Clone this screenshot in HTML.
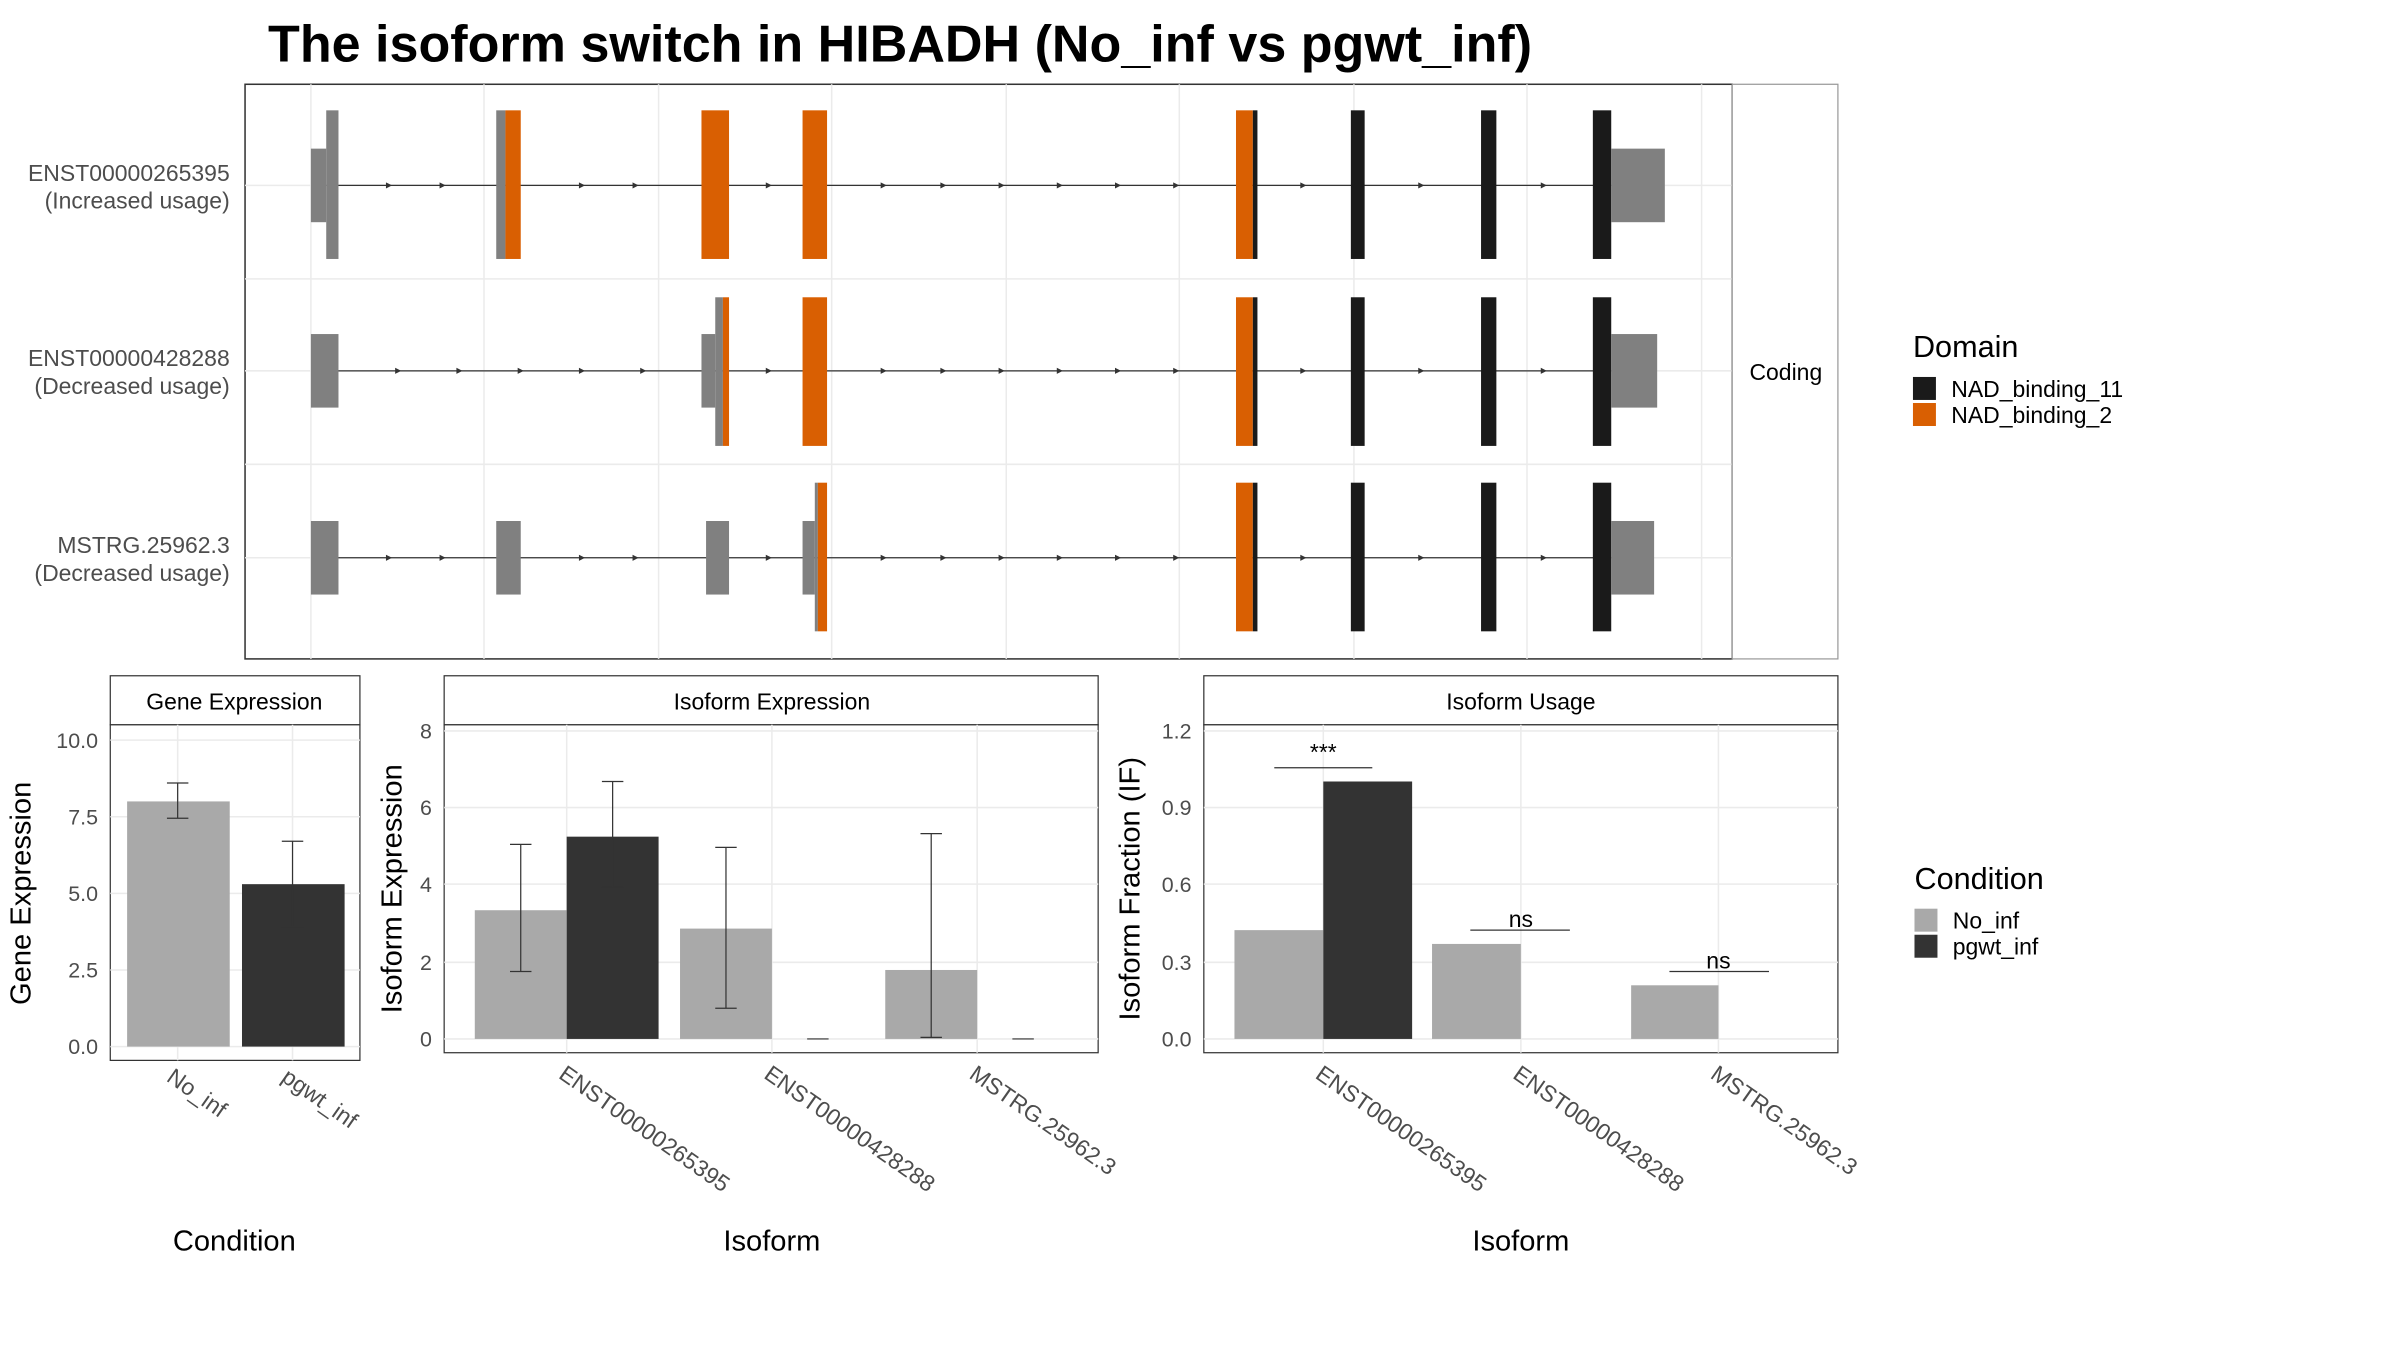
<!DOCTYPE html>
<html><head><meta charset="utf-8"><style>html,body{margin:0;padding:0;background:#fff}svg{display:block}</style></head>
<body>
<svg width="2400" height="1350" viewBox="0 0 1567 881" preserveAspectRatio="none" xmlns="http://www.w3.org/2000/svg" font-family="Liberation Sans, sans-serif">
<rect width="1600" height="900" fill="#fff"/>
<text x="175" y="40" font-size="34" font-weight="bold" fill="#000">The isoform switch in HIBADH (No_inf vs pgwt_inf)</text>
<rect x="160" y="55" width="971" height="375" fill="#fff" stroke="#333" stroke-width="1"/>
<g stroke="#ebebeb" stroke-width="1">
<line x1="203" y1="55" x2="203" y2="430"/><line x1="316" y1="55" x2="316" y2="430"/><line x1="430" y1="55" x2="430" y2="430"/><line x1="543" y1="55" x2="543" y2="430"/><line x1="657" y1="55" x2="657" y2="430"/><line x1="770" y1="55" x2="770" y2="430"/><line x1="884" y1="55" x2="884" y2="430"/><line x1="997" y1="55" x2="997" y2="430"/><line x1="1111" y1="55" x2="1111" y2="430"/>
<line x1="160" y1="121" x2="1131" y2="121"/><line x1="160" y1="242" x2="1131" y2="242"/><line x1="160" y1="364" x2="1131" y2="364"/>
<line x1="160" y1="182" x2="1131" y2="182"/><line x1="160" y1="303" x2="1131" y2="303"/>
</g>
<rect x="1131" y="55" width="69" height="375" fill="#fff" stroke="#999" stroke-width="0.8"/>
<text x="1166" y="248" font-size="15" text-anchor="middle">Coding</text>
<g stroke="#333" stroke-width="0.8">
<line x1="213" y1="121" x2="1052" y2="121"/><line x1="213" y1="242" x2="1052" y2="242"/><line x1="213" y1="364" x2="1052" y2="364"/>
</g>
<g fill="#333">
<path d="M252,119 l4,2 l-4,2z M287,119 l4,2 l-4,2z M378,119 l4,2 l-4,2z M413,119 l4,2 l-4,2z M500,119 l4,2 l-4,2z M575,119 l4,2 l-4,2z M614,119 l4,2 l-4,2z M652,119 l4,2 l-4,2z M690,119 l4,2 l-4,2z M728,119 l4,2 l-4,2z M766,119 l4,2 l-4,2z M849,119 l4,2 l-4,2z M926,119 l4,2 l-4,2z M1006,119 l4,2 l-4,2z"/>
<path d="M258,240 l4,2 l-4,2z M298,240 l4,2 l-4,2z M338,240 l4,2 l-4,2z M378,240 l4,2 l-4,2z M418,240 l4,2 l-4,2z M500,240 l4,2 l-4,2z M575,240 l4,2 l-4,2z M614,240 l4,2 l-4,2z M652,240 l4,2 l-4,2z M690,240 l4,2 l-4,2z M728,240 l4,2 l-4,2z M766,240 l4,2 l-4,2z M849,240 l4,2 l-4,2z M926,240 l4,2 l-4,2z M1006,240 l4,2 l-4,2z"/>
<path d="M252,362 l4,2 l-4,2z M287,362 l4,2 l-4,2z M378,362 l4,2 l-4,2z M413,362 l4,2 l-4,2z M500,362 l4,2 l-4,2z M575,362 l4,2 l-4,2z M614,362 l4,2 l-4,2z M652,362 l4,2 l-4,2z M690,362 l4,2 l-4,2z M728,362 l4,2 l-4,2z M766,362 l4,2 l-4,2z M849,362 l4,2 l-4,2z M926,362 l4,2 l-4,2z M1006,362 l4,2 l-4,2z"/>
</g>
<g>
<rect x="203" y="97" width="10" height="48" fill="#808080"/><rect x="213" y="72" width="8" height="97" fill="#808080"/>
<rect x="324" y="72" width="6" height="97" fill="#808080"/><rect x="330" y="72" width="10" height="97" fill="#d95f02"/>
<rect x="458" y="72" width="18" height="97" fill="#d95f02"/><rect x="524" y="72" width="16" height="97" fill="#d95f02"/>
<rect x="807" y="72" width="11" height="97" fill="#d95f02"/><rect x="818" y="72" width="3" height="97" fill="#1a1a1a"/>
<rect x="882" y="72" width="9" height="97" fill="#1a1a1a"/><rect x="967" y="72" width="10" height="97" fill="#1a1a1a"/>
<rect x="1040" y="72" width="12" height="97" fill="#1a1a1a"/><rect x="1052" y="97" width="35" height="48" fill="#808080"/>
</g>
<g>
<rect x="203" y="218" width="18" height="48" fill="#808080"/>
<rect x="458" y="218" width="9" height="48" fill="#808080"/><rect x="467" y="194" width="5" height="97" fill="#808080"/><rect x="472" y="194" width="4" height="97" fill="#d95f02"/>
<rect x="524" y="194" width="16" height="97" fill="#d95f02"/>
<rect x="807" y="194" width="11" height="97" fill="#d95f02"/><rect x="818" y="194" width="3" height="97" fill="#1a1a1a"/>
<rect x="882" y="194" width="9" height="97" fill="#1a1a1a"/><rect x="967" y="194" width="10" height="97" fill="#1a1a1a"/>
<rect x="1040" y="194" width="12" height="97" fill="#1a1a1a"/><rect x="1052" y="218" width="30" height="48" fill="#808080"/>
</g>
<g>
<rect x="203" y="340" width="18" height="48" fill="#808080"/><rect x="324" y="340" width="16" height="48" fill="#808080"/>
<rect x="461" y="340" width="15" height="48" fill="#808080"/><rect x="524" y="340" width="8" height="48" fill="#808080"/>
<rect x="532" y="315" width="2" height="97" fill="#808080"/><rect x="534" y="315" width="6" height="97" fill="#d95f02"/>
<rect x="807" y="315" width="11" height="97" fill="#d95f02"/><rect x="818" y="315" width="3" height="97" fill="#1a1a1a"/>
<rect x="882" y="315" width="9" height="97" fill="#1a1a1a"/><rect x="967" y="315" width="10" height="97" fill="#1a1a1a"/>
<rect x="1040" y="315" width="12" height="97" fill="#1a1a1a"/><rect x="1052" y="340" width="28" height="48" fill="#808080"/>
</g>
<g font-size="15" fill="#4d4d4d" text-anchor="end">
<text x="150" y="118">ENST00000265395</text><text x="150" y="136">(Increased usage)</text>
<text x="150" y="239">ENST00000428288</text><text x="150" y="257">(Decreased usage)</text>
<text x="150" y="361">MSTRG.25962.3</text><text x="150" y="379">(Decreased usage)</text>
</g>
<text x="1249" y="233" font-size="20">Domain</text>
<rect x="1249" y="246" width="15" height="15" fill="#1a1a1a"/><text x="1274" y="259" font-size="15">NAD_binding_11</text>
<rect x="1249" y="263" width="15" height="15" fill="#d95f02"/><text x="1274" y="276" font-size="15">NAD_binding_2</text>

<rect x="72" y="441" width="163" height="32" fill="#fff" stroke="#333" stroke-width="0.8"/>
<text x="153" y="463" font-size="15" text-anchor="middle">Gene Expression</text>
<rect x="72" y="473" width="163" height="219" fill="#fff" stroke="#333" stroke-width="0.8"/>
<g stroke="#ebebeb"><line x1="72" y1="483" x2="235" y2="483"/><line x1="72" y1="533" x2="235" y2="533"/><line x1="72" y1="583" x2="235" y2="583"/><line x1="72" y1="633" x2="235" y2="633"/><line x1="72" y1="683" x2="235" y2="683"/><line x1="116" y1="473" x2="116" y2="692"/><line x1="191" y1="473" x2="191" y2="692"/></g>
<rect x="83" y="523" width="67" height="160" fill="#a9a9a9"/><rect x="158" y="577" width="67" height="106" fill="#333"/>
<g stroke="#333" stroke-width="0.8" fill="none"><path d="M109,511 h14 M116,511 v23 M109,534 h14"/><path d="M184,549 h14 M191,549 v56 M184,605 h14"/></g>
<g font-size="14" fill="#4d4d4d" text-anchor="end"><text x="64" y="488">10.0</text><text x="64" y="538">7.5</text><text x="64" y="588">5.0</text><text x="64" y="638">2.5</text><text x="64" y="688">0.0</text></g>
<g font-size="15" fill="#4d4d4d"><text transform="translate(108,705) rotate(35)">No_inf</text><text transform="translate(183,705) rotate(35)">pgwt_inf</text></g>
<text transform="translate(20,583) rotate(-90)" font-size="19" text-anchor="middle">Gene Expression</text>
<text x="153" y="816" font-size="19" text-anchor="middle">Condition</text>

<rect x="290" y="441" width="427" height="32" fill="#fff" stroke="#333" stroke-width="0.8"/>
<text x="504" y="463" font-size="15" text-anchor="middle">Isoform Expression</text>
<rect x="290" y="473" width="427" height="214" fill="#fff" stroke="#333" stroke-width="0.8"/>
<g stroke="#ebebeb"><line x1="290" y1="477" x2="717" y2="477"/><line x1="290" y1="527" x2="717" y2="527"/><line x1="290" y1="577" x2="717" y2="577"/><line x1="290" y1="628" x2="717" y2="628"/><line x1="290" y1="678" x2="717" y2="678"/><line x1="370" y1="473" x2="370" y2="687"/><line x1="504" y1="473" x2="504" y2="687"/><line x1="638" y1="473" x2="638" y2="687"/></g>
<rect x="310" y="594" width="60" height="84" fill="#a9a9a9"/><rect x="370" y="546" width="60" height="132" fill="#333"/>
<rect x="444" y="606" width="60" height="72" fill="#a9a9a9"/><rect x="578" y="633" width="60" height="45" fill="#a9a9a9"/>
<g stroke="#333" stroke-width="0.8" fill="none">
<path d="M333,551 h14 M340,551 v83 M333,634 h14"/><path d="M393,510 h14 M400,510 v69 M393,579 h14"/>
<path d="M467,553 h14 M474,553 v105 M467,658 h14"/><path d="M527,678 h14"/>
<path d="M601,544 h14 M608,544 v133 M601,677 h14"/><path d="M661,678 h14"/></g>
<g font-size="14" fill="#4d4d4d" text-anchor="end"><text x="282" y="482">8</text><text x="282" y="532">6</text><text x="282" y="582">4</text><text x="282" y="633">2</text><text x="282" y="683">0</text></g>
<g font-size="15" fill="#4d4d4d"><text transform="translate(364,703) rotate(35)">ENST00000265395</text><text transform="translate(498,703) rotate(35)">ENST00000428288</text><text transform="translate(632,703) rotate(35)">MSTRG.25962.3</text></g>
<text transform="translate(262,580) rotate(-90)" font-size="19" text-anchor="middle">Isoform Expression</text>
<text x="504" y="816" font-size="19" text-anchor="middle">Isoform</text>

<rect x="786" y="441" width="414" height="32" fill="#fff" stroke="#333" stroke-width="0.8"/>
<text x="993" y="463" font-size="15" text-anchor="middle">Isoform Usage</text>
<rect x="786" y="473" width="414" height="214" fill="#fff" stroke="#333" stroke-width="0.8"/>
<g stroke="#ebebeb"><line x1="786" y1="477" x2="1200" y2="477"/><line x1="786" y1="527" x2="1200" y2="527"/><line x1="786" y1="577" x2="1200" y2="577"/><line x1="786" y1="628" x2="1200" y2="628"/><line x1="786" y1="678" x2="1200" y2="678"/><line x1="864" y1="473" x2="864" y2="687"/><line x1="993" y1="473" x2="993" y2="687"/><line x1="1122" y1="473" x2="1122" y2="687"/></g>
<rect x="806" y="607" width="58" height="71" fill="#a9a9a9"/><rect x="864" y="510" width="58" height="168" fill="#333"/>
<rect x="935" y="616" width="58" height="62" fill="#a9a9a9"/><rect x="1065" y="643" width="57" height="35" fill="#a9a9a9"/>
<g stroke="#333" stroke-width="0.8"><line x1="832" y1="501" x2="896" y2="501"/><line x1="960" y1="607" x2="1025" y2="607"/><line x1="1090" y1="634" x2="1155" y2="634"/></g>
<g font-size="15" text-anchor="middle"><text x="864" y="496">***</text><text x="993" y="605">ns</text><text x="1122" y="632">ns</text></g>
<g font-size="14" fill="#4d4d4d" text-anchor="end"><text x="778" y="482">1.2</text><text x="778" y="532">0.9</text><text x="778" y="582">0.6</text><text x="778" y="633">0.3</text><text x="778" y="683">0.0</text></g>
<g font-size="15" fill="#4d4d4d"><text transform="translate(858,703) rotate(35)">ENST00000265395</text><text transform="translate(987,703) rotate(35)">ENST00000428288</text><text transform="translate(1116,703) rotate(35)">MSTRG.25962.3</text></g>
<text transform="translate(744,580) rotate(-90)" font-size="19" text-anchor="middle">Isoform Fraction (IF)</text>
<text x="993" y="816" font-size="19" text-anchor="middle">Isoform</text>

<text x="1250" y="580" font-size="20">Condition</text>
<rect x="1250" y="593" width="15" height="15" fill="#a9a9a9"/><text x="1275" y="606" font-size="15">No_inf</text>
<rect x="1250" y="610" width="15" height="15" fill="#333"/><text x="1275" y="623" font-size="15">pgwt_inf</text>
</svg>
</body></html>
